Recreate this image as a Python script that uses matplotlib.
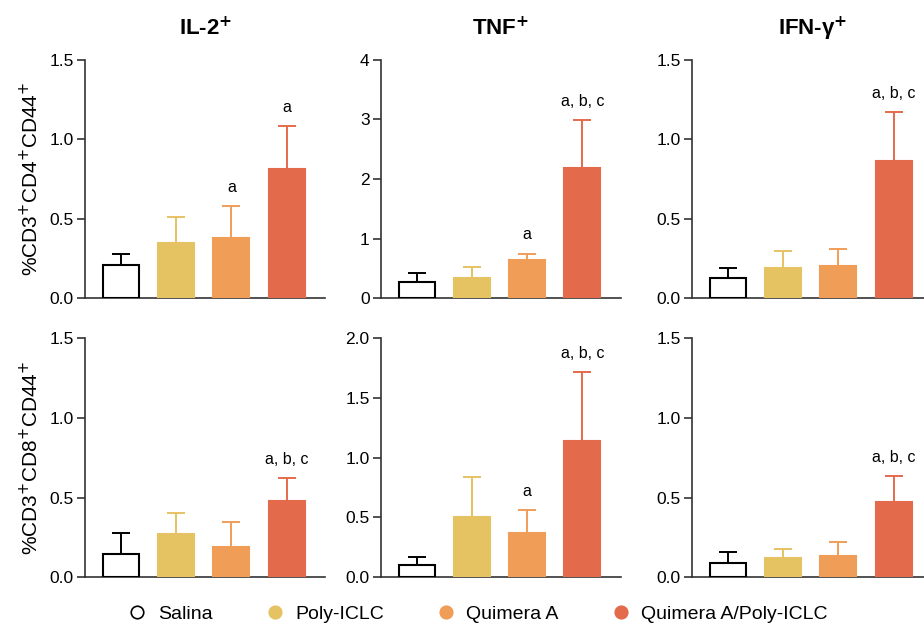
import numpy as np
import matplotlib.pyplot as plt
from matplotlib.lines import Line2D

plt.rcParams["font.family"] = ["Liberation Sans", "DejaVu Sans"]

groups = ["Salina", "Poly-ICLC", "Quimera A", "Quimera A/Poly-ICLC"]
colors = ["white", "#E5C262", "#F09D58", "#E46A4C"]
edge_colors = ["black", "#E5C262", "#F09D58", "#E46A4C"]

titles = ["IL-2$^{\\mathbf{+}}$", "TNF$^{\\mathbf{+}}$", "IFN-γ$^{\\mathbf{+}}$"]
row_labels = ["%CD3$^{+}$CD4$^{+}$CD44$^{+}$", "%CD3$^{+}$CD8$^{+}$CD44$^{+}$"]

# CD4 row: means and upper error-bar ends
cd4_mean = [
    [0.21, 0.345, 0.38, 0.81],
    [0.27, 0.34, 0.65, 2.18],
    [0.13, 0.19, 0.20, 0.86],
]
cd4_top = [
    [0.28, 0.51, 0.58, 1.08],
    [0.43, 0.53, 0.75, 2.99],
    [0.19, 0.30, 0.31, 1.17],
]
cd4_marks = [
    ["", "", "a", "a"],
    ["", "", "a", "a, b, c"],
    ["", "", "", "a, b, c"],
]

# CD8 row
cd8_mean = [
    [0.147, 0.27, 0.19, 0.48],
    [0.10, 0.50, 0.37, 1.14],
    [0.09, 0.12, 0.13, 0.47],
]
cd8_top = [
    [0.28, 0.40, 0.345, 0.625],
    [0.17, 0.84, 0.56, 1.72],
    [0.157, 0.175, 0.22, 0.636],
]
cd8_marks = [
    ["", "", "", "a, b, c"],
    ["", "", "a", "a, b, c"],
    ["", "", "", "a, b, c"],
]

ylims = [[1.5, 4, 1.5], [1.5, 2.0, 1.5]]
ysteps = [[0.5, 1, 0.5], [0.5, 0.5, 0.5]]

fig = plt.figure(figsize=(9.24, 6.28), dpi=100)

lefts = [0.092, 0.412, 0.749]
bottoms = [0.525, 0.081]
width, height = 0.26, 0.38

rows = [(cd4_mean, cd4_top, cd4_marks), (cd8_mean, cd8_top, cd8_marks)]
x = np.arange(len(groups))

for r, (means, tops, marks) in enumerate(rows):
    for c in range(3):
        ax = fig.add_axes([lefts[c], bottoms[r], width, height])
        m = np.array(means[c])
        t = np.array(tops[c])
        ax.bar(x, m, width=0.65, color=colors, edgecolor=edge_colors,
               linewidth=1.5, zorder=3)
        for i in range(len(groups)):
            ax.errorbar(x[i], m[i], yerr=[[0], [t[i] - m[i]]], fmt="none",
                        ecolor=edge_colors[i], elinewidth=1.4, capsize=6.5,
                        capthick=1.4, zorder=2)
            if marks[c][i]:
                ax.annotate(marks[c][i], (x[i], t[i]), xytext=(0, 8),
                            textcoords="offset points", ha="center",
                            va="bottom", fontsize=11.5)
        ax.set_xlim(-0.65, 3.7)
        ax.set_ylim(0, ylims[r][c])
        ticks = np.arange(0, ylims[r][c] + 1e-9, ysteps[r][c])
        ax.set_yticks(ticks)
        if ysteps[r][c] < 1:
            ax.set_yticklabels([f"{v:.1f}" for v in ticks])
        ax.set_xticks([])
        ax.tick_params(axis="y", labelsize=12.5, length=6, width=1.2,
                       color="#333333", pad=2)
        for s in ["top", "right"]:
            ax.spines[s].set_visible(False)
        for s in ["left", "bottom"]:
            ax.spines[s].set_linewidth(1.2)
            ax.spines[s].set_color("#333333")
        if r == 0:
            ax.set_title(titles[c], fontsize=16, fontweight="bold", pad=18)
        if c == 0:
            ax.set_ylabel(row_labels[r], fontsize=15, labelpad=5)

handles = [
    Line2D([], [], marker="o", linestyle="none", markersize=9,
           markerfacecolor=colors[i], markeredgecolor=edge_colors[i],
           markeredgewidth=1.2)
    for i in range(len(groups))
]
fig.legend(handles, groups, loc="center", bbox_to_anchor=(0.517, 0.022),
           ncol=4, frameon=False, fontsize=14, handlelength=1.0,
           handletextpad=0.55, columnspacing=2.7)

fig.savefig("out.png", dpi=100)
